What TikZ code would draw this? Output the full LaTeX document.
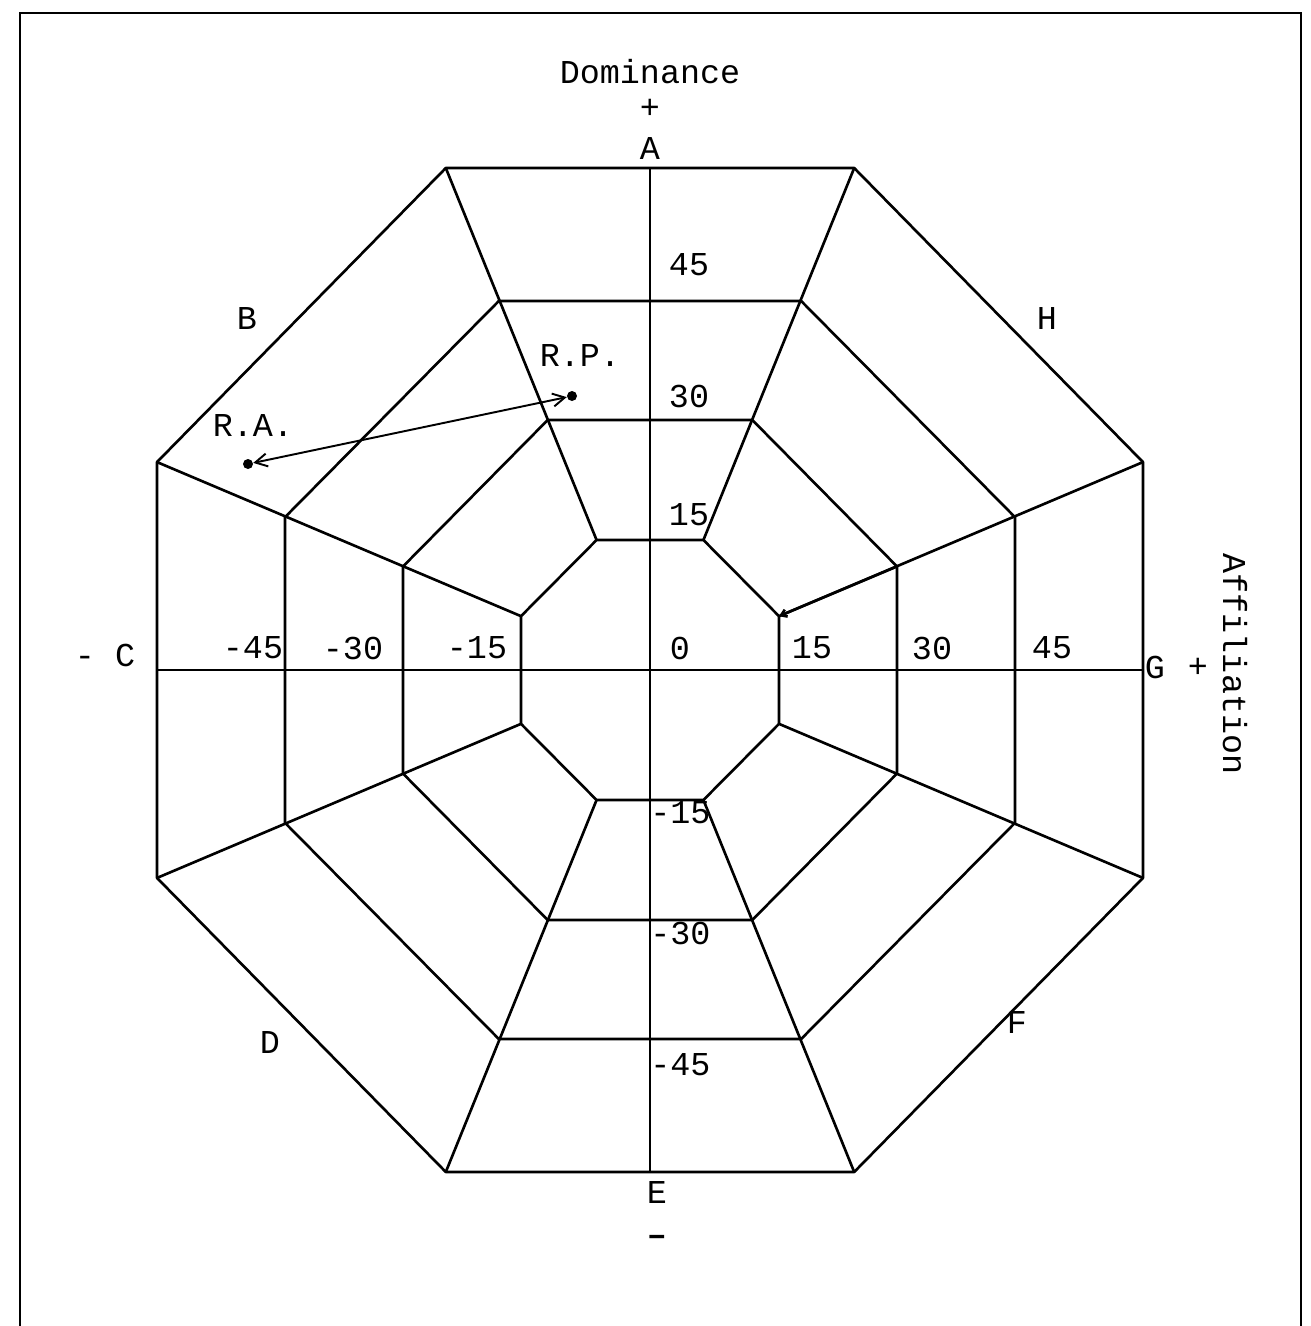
\documentclass[tikz,border=0pt]{standalone}
\usepackage{fontspec}
\setmainfont{Liberation Mono}
\usepackage{tikz}
\usetikzlibrary{arrows.meta,positioning,calc}
\tikzset{
  ring/.style={line width=1.5pt,line join=round},
  axis/.style={line width=1.1pt},
  frame/.style={line width=1.5pt},
  lbl/.style={font=\fontsize{19}{22}\selectfont,inner sep=1pt},
  dot/.style={circle,fill,inner sep=0pt,minimum size=2mm},
  arr/.style={{Straight Barb[length=2.4mm,width=2.6mm]}-{Straight Barb[length=2.4mm,width=2.6mm]},line width=1.1pt},
}
\begin{document}
\begin{tikzpicture}[x=0.2mm,y=-0.2mm]
\useasboundingbox (0,0) rectangle (1310,1326);
% frame
\draw[frame] (20,1326) -- (20,13) -- (1301,13) -- (1301,1326);
% octagon corners, ring n
\coordinate (c) at (650,670);
\foreach \n/\ax/\ay in {1/129/130,2/247/250,3/365/369,4/493/502}{
  \foreach \k in {0,...,7}
    \coordinate (v\n-\k) at ($(c)+({1.0824*\ax*cos(22.5+45*\k)},{1.0824*\ay*sin(22.5+45*\k)})$);
}
% rings
\foreach \n in {1,...,4}
  \draw[ring] (v\n-0) -- (v\n-1) -- (v\n-2) -- (v\n-3) -- (v\n-4) -- (v\n-5) -- (v\n-6) -- (v\n-7) -- cycle;
% spokes
\foreach \k in {0,...,7}
  \draw[ring] (v4-\k) -- (v1-\k);
\draw[ring,-{Straight Barb[length=1.1mm,width=1.5mm]}] (v2-7) -- (v1-7);
% axes
\coordinate (A) at ($(v4-5)!.5!(v4-6)$);
\coordinate (E) at ($(v4-1)!.5!(v4-2)$);
\coordinate (C) at ($(v4-3)!.5!(v4-4)$);
\coordinate (G) at ($(v4-7)!.5!(v4-0)$);
\draw[axis] (A) -- (E);
\draw[axis] (C) -- (G);
% axis titles and sector letters
\node[lbl,inner sep=0pt] (dom) at (650,72) {Dominance};
\node[lbl,inner sep=0pt] (domplus) at (650,109) {+};
\node[lbl] (la) at (650,148) {A};
\node[lbl] (lb) at (247,318) {B};
\node[lbl] (lh) at (1047,318) {H};
\node[lbl] (lc) at (105,655) {- C};
\node[lbl] (lg) at (1155,667) {G};
\node[lbl] (affplus) at (1198,668) {+};
\node[lbl,rotate=-90] (aff) at (1235,664) {Affiliation};
\node[lbl] (ld) at (270,1042) {D};
\node[lbl] (lf) at (1017,1022) {F};
\node[lbl] (le) at (657,1192) {E};
\node[lbl] (domminus) at (657,1240) {\textbf{--}};
% scale values
\foreach \t/\x [count=\i] in {-45/253,-30/353,-15/477,0/680,15/812,30/932,45/1052}
  \node[lbl] (h\i) at (\x,648) {\t};
\foreach \t/\y [count=\i] in {45/265,30/396,15/515}
  \node[lbl] (u\i) at (689,\y) {\t};
\foreach \t/\y [count=\i] in {-15/813,-30/933,-45/1065}
  \node[lbl,anchor=west,inner sep=0pt] (d\i) at (650,\y) {\t};
% shift R.A. -> R.P.
\node[lbl] (rplbl) at (580,355) {R.P.};
\node[lbl] (ralbl) at (253,425) {R.A.};
\node[dot] (rp) at (572,396) {};
\node[dot] (ra) at (248,464) {};
\draw[arr] (ra) -- (rp);
\end{tikzpicture}
\end{document}
